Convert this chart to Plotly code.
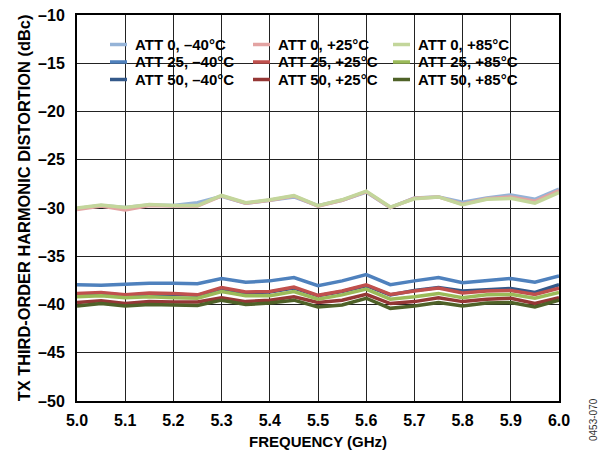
import plotly.graph_objects as go

freq = [5.00, 5.05, 5.10, 5.15, 5.20, 5.25, 5.30, 5.35, 5.40, 5.45, 5.50,
        5.55, 5.60, 5.65, 5.70, 5.75, 5.80, 5.85, 5.90, 5.95, 6.00]

att0_m40 = [-30.05, -29.75, -29.95, -29.70, -29.75, -29.45, -28.80, -29.50, -29.20, -28.85, -29.75,
            -29.20, -28.35, -29.95, -28.95, -28.85, -29.40, -28.95, -28.65, -29.10, -28.05]
att25_m40 = [-37.96, -38.00, -37.90, -37.80, -37.80, -37.85, -37.30, -37.70, -37.55, -37.20, -38.05,
             -37.55, -36.90, -37.95, -37.55, -37.20, -37.75, -37.50, -37.30, -37.70, -37.05]
att50_m40 = [-38.95, -38.85, -39.05, -38.90, -38.95, -39.05, -38.35, -38.80, -38.70, -38.30, -39.10,
             -38.65, -38.05, -39.00, -38.55, -38.25, -38.60, -38.45, -38.35, -38.75, -37.95]
att0_p25 = [-30.15, -29.80, -30.20, -29.75, -29.80, -29.80, -28.75, -29.50, -29.20, -28.75, -29.80,
            -29.20, -28.30, -29.95, -29.00, -28.85, -29.60, -29.05, -28.85, -29.30, -28.20]
att25_p25 = [-38.85, -38.75, -39.00, -38.80, -38.85, -39.00, -38.25, -38.70, -38.65, -38.20, -39.05,
             -38.60, -37.95, -38.95, -38.60, -38.30, -38.80, -38.60, -38.55, -38.95, -38.30]
att50_p25 = [-39.80, -39.60, -39.90, -39.70, -39.75, -39.75, -39.30, -39.70, -39.55, -39.20, -39.80,
             -39.55, -38.95, -39.90, -39.70, -39.30, -39.70, -39.45, -39.35, -39.90, -39.30]
att0_p85 = [-30.00, -29.70, -29.95, -29.65, -29.75, -29.75, -28.70, -29.45, -29.15, -28.70, -29.75,
            -29.15, -28.25, -29.90, -29.05, -28.85, -29.65, -29.10, -29.00, -29.50, -28.40]
att25_p85 = [-39.20, -39.10, -39.30, -39.20, -39.30, -39.35, -38.65, -39.10, -39.10, -38.65, -39.45,
             -39.00, -38.40, -39.45, -39.20, -38.85, -39.30, -39.00, -38.95, -39.35, -38.75]
att50_p85 = [-40.15, -39.90, -40.15, -40.00, -40.05, -40.10, -39.55, -40.00, -39.85, -39.55, -40.25,
             -40.05, -39.35, -40.40, -40.15, -39.80, -40.15, -39.85, -39.80, -40.25, -39.55]

series_names = ["ATT 0, –40°C", "ATT 25, –40°C", "ATT 50, –40°C",
                "ATT 0, +25°C", "ATT 25, +25°C", "ATT 50, +25°C",
                "ATT 0, +85°C", "ATT 25, +85°C", "ATT 50, +85°C"]
series_values = [att0_m40, att25_m40, att50_m40,
                 att0_p25, att25_p25, att50_p25,
                 att0_p85, att25_p85, att50_p85]
series_colors = ["#95B3D7", "#4F81BD", "#34598A",
                 "#E3A3A2", "#C0504D", "#953735",
                 "#C3D69B", "#9BBB59", "#4F6228"]

y_tickvals = [-50, -45, -40, -35, -30, -25, -20, -15, -10]
y_ticktext = ["–50", "–45", "–40", "–35", "–30", "–25", "–20", "–15", "–10"]
x_tickvals = [5.0, 5.1, 5.2, 5.3, 5.4, 5.5, 5.6, 5.7, 5.8, 5.9, 6.0]

FONT = "Liberation Sans, Arial, sans-serif"

# The page body has an 8 px default margin, so the figure is offset by 8 px.
OFF = 8
W, H = 607 - OFF, 450 - OFF
ML, MT = 77 - OFF, 15 - OFF
PW, PH = 482, 386
MR, MB = W - ML - PW, H - MT - PH


def px_x(p):  # screen px -> paper
    return (p - OFF - ML) / PW


def px_y(p):
    return 1 - (p - OFF - MT) / PH


fig = go.Figure()
for name, vals, col in zip(series_names, series_values, series_colors):
    fig.add_trace(go.Scatter(
        x=freq, y=vals, mode="lines", name=name,
        line=dict(color=col, width=3.5), showlegend=False,
    ))

# Legend drawn in the chart's style: 3 columns (temperature) x 3 rows (attenuation)
shapes = [dict(type="rect", xref="paper", yref="paper", layer="between",
               x0=px_x(105), x1=px_x(533), y0=px_y(89), y1=px_y(34),
               fillcolor="white", line=dict(width=0))]
annotations = []
col_sample_x = [110, 253, 393]
row_y = [44.5, 62, 79.5]
for i, (name, col) in enumerate(zip(series_names, series_colors)):
    c = i // 3   # temperature -> column
    r = i % 3    # attenuation -> row
    sx = col_sample_x[c]
    yy = px_y(row_y[r])
    shapes.append(dict(type="line", xref="paper", yref="paper", layer="above",
                       x0=px_x(sx), x1=px_x(sx + 17), y0=yy, y1=yy,
                       line=dict(color=col, width=3.5)))
    annotations.append(dict(text=name, xref="paper", yref="paper",
                            x=px_x(sx + 24), y=yy, xanchor="left", yanchor="middle",
                            showarrow=False, borderpad=0,
                            font=dict(family=FONT, size=15, weight="bold", color="black")))

annotations.append(dict(
    text="0453-070", xref="paper", yref="paper",
    x=px_x(593), y=px_y(420), xanchor="center", yanchor="middle",
    textangle=-90, showarrow=False,
    font=dict(family=FONT, size=10, weight="normal", color="#333"),
))

fig.update_layout(
    width=W, height=H,
    margin=dict(l=ML, r=MR, t=MT, b=MB, autoexpand=False),
    paper_bgcolor="white", plot_bgcolor="white",
    font=dict(family=FONT, color="black", size=16, weight="bold"),
    showlegend=False,
    xaxis=dict(
        range=[5.0, 6.0], tickvals=x_tickvals, tickformat=".1f",
        showgrid=True, gridcolor="#222", gridwidth=1.3,
        showline=True, linecolor="black", linewidth=2, mirror=True,
        ticks="", zeroline=False, ticklabelstandoff=4, automargin=False,
        ticklabeloverflow="allow",
        tickfont=dict(family=FONT, size=16, weight="bold"),
        title=dict(text="FREQUENCY (GHz)", standoff=13,
                   font=dict(family=FONT, size=15, weight="bold")),
    ),
    yaxis=dict(
        range=[-50, -10], tickvals=y_tickvals, ticktext=y_ticktext,
        showgrid=True, gridcolor="#222", gridwidth=1.3,
        showline=True, linecolor="black", linewidth=2, mirror=True,
        ticks="", zeroline=False, ticklabelstandoff=7, automargin=False,
        ticklabeloverflow="allow",
        tickfont=dict(family=FONT, size=16, weight="bold"),
        title=dict(text="TX THIRD-ORDER HARMONIC DISTORTION (dBc)", standoff=3,
                   font=dict(family=FONT, size=16.4, weight="bold")),
    ),
    shapes=shapes,
    annotations=annotations,
)

fig.write_html("out.html")
